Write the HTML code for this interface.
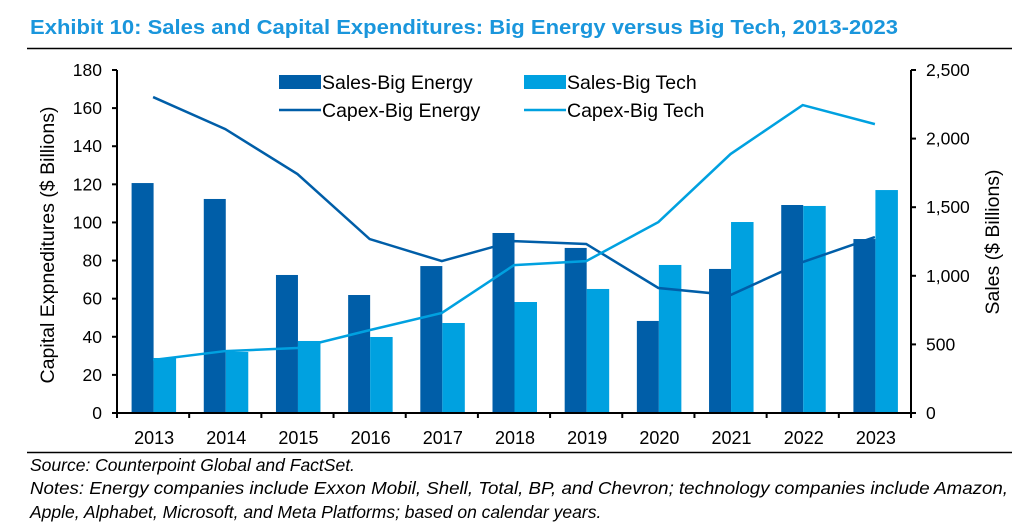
<!DOCTYPE html>
<html><head><meta charset="utf-8"><style>
html,body{margin:0;padding:0;background:#fff;}
svg{display:block;font-family:"Liberation Sans",Arial,sans-serif;}
</style></head><body>
<svg id="chart" width="1024" height="526" viewBox="0 0 1024 526" xmlns="http://www.w3.org/2000/svg">
<text x="30" y="34" font-size="20.5" font-weight="bold" fill="#1a96dc" textLength="868" lengthAdjust="spacingAndGlyphs">Exhibit 10: Sales and Capital Expenditures: Big Energy versus Big Tech, 2013-2023</text>
<line x1="27" y1="48.5" x2="1012" y2="48.5" stroke="#000" stroke-width="1.5"/>
<line x1="27" y1="452.5" x2="1012" y2="452.5" stroke="#000" stroke-width="1.5"/>
<g id="plot"></g>
<g font-size="19.5" fill="#000">
  <rect x="279" y="75" width="42" height="14" fill="#005ea8"/>
  <text x="322" y="89">Sales-Big Energy</text>
  <rect x="524" y="75" width="42" height="14" fill="#00a1e0"/>
  <text x="567" y="89">Sales-Big Tech</text>
  <line x1="279" y1="110" x2="321" y2="110" stroke="#005ea8" stroke-width="2.5"/>
  <text x="322" y="117">Capex-Big Energy</text>
  <line x1="524" y1="110" x2="566" y2="110" stroke="#00a1e0" stroke-width="2.5"/>
  <text x="567" y="117">Capex-Big Tech</text>
</g>
<text transform="translate(54,245) rotate(-90)" text-anchor="middle" font-size="19" textLength="277" lengthAdjust="spacingAndGlyphs">Capital Expneditures ($ Billions)</text>
<text transform="translate(999,242) rotate(-90)" text-anchor="middle" font-size="19" textLength="145" lengthAdjust="spacingAndGlyphs">Sales ($ Billions)</text>
<g font-size="17.5" font-style="italic" fill="#000">
  <text x="30" y="471">Source: Counterpoint Global and FactSet.</text>
  <text x="30" y="494" textLength="978" lengthAdjust="spacingAndGlyphs">Notes: Energy companies include Exxon Mobil, Shell, Total, BP, and Chevron; technology companies include Amazon,</text>
  <text x="30" y="518">Apple, Alphabet, Microsoft, and Meta Platforms; based on calendar years.</text>
</g>
</svg>
<script>
const years = ["2013","2014","2015","2016","2017","2018","2019","2020","2021","2022","2023"];
const salesEnergy = [1676,1560,1006,860,1071,1312,1203,671,1050,1516,1268];
const salesTech = [401,445,525,554,656,809,904,1079,1392,1509,1625];
const capexEnergy = [165.8,149,125.4,91.3,79.7,90.2,88.7,65.6,61.9,79.2,92.3];
const capexTech = [27.8,32.5,34.1,43.5,52.5,77.6,79.7,100.2,135.9,161.6,151.6];
const leftTicks = [0,20,40,60,80,100,120,140,160,180];
const rightTicks = [0,500,1000,1500,2000,2500];
const rightTickLabels = ["0","500","1,000","1,500","2,000","2,500"];

const NS="http://www.w3.org/2000/svg";
const g=document.getElementById('plot');
const X0=117,X1=911,Y0=413,Y1=70;
const band=(X1-X0)/years.length;
const cx=i=>X0+band*(i+0.5);
const yL=v=>Y0-(v/180)*(Y0-Y1);
const yR=v=>Y0-(v/2500)*(Y0-Y1);
function mk(tag,attrs){const e=document.createElementNS(NS,tag);for(const k in attrs)e.setAttribute(k,attrs[k]);g.appendChild(e);return e;}

years.forEach((yr,i)=>{
  const c=cx(i);
  let r=mk('rect',{x:c-21.5,y:yR(salesEnergy[i]),width:22,height:Y0-yR(salesEnergy[i]),fill:'#005ea8'});
  
  
  r=mk('rect',{x:c+0.5,y:yR(salesTech[i]),width:22.5,height:Y0-yR(salesTech[i]),fill:'#00a1e0'});
  
  
  const t=mk('text',{x:c+1,y:444,'text-anchor':'middle','font-size':'18'});
  t.textContent=yr;
  
  
});
let p1=mk('polyline',{points:capexEnergy.map((v,i)=>cx(i)+','+yL(v)).join(' '),fill:'none',stroke:'#005ea8','stroke-width':2.5});


let p2=mk('polyline',{points:capexTech.map((v,i)=>cx(i)+','+yL(v)).join(' '),fill:'none',stroke:'#00a1e0','stroke-width':2.5});



let a=mk('line',{x1:X0,y1:Y1,x2:X0,y2:Y0,stroke:'#000','stroke-width':2});


a=mk('line',{x1:X1,y1:Y1,x2:X1,y2:Y0,stroke:'#000','stroke-width':2});


a=mk('line',{x1:X0-5,y1:Y0,x2:X1+5,y2:Y0,stroke:'#000','stroke-width':2});


for(let i=0;i<=years.length;i++){mk('line',{x1:X0+band*i,y1:Y0,x2:X0+band*i,y2:Y0+5,stroke:'#000','stroke-width':2});}
leftTicks.forEach(v=>{
  mk('line',{x1:X0-5,y1:yL(v),x2:X0,y2:yL(v),stroke:'#000','stroke-width':2});
  const t=mk('text',{x:102,y:yL(v)+6,'text-anchor':'end','font-size':'17.5'});
  t.textContent=v;
  
  
});
rightTicks.forEach((v,i)=>{
  mk('line',{x1:X1,y1:yR(v),x2:X1+5,y2:yR(v),stroke:'#000','stroke-width':2});
  const t=mk('text',{x:926,y:yR(v)+6,'font-size':'17.5'});
  t.textContent=rightTickLabels[i];
  
  
});
</script>
</body></html>
